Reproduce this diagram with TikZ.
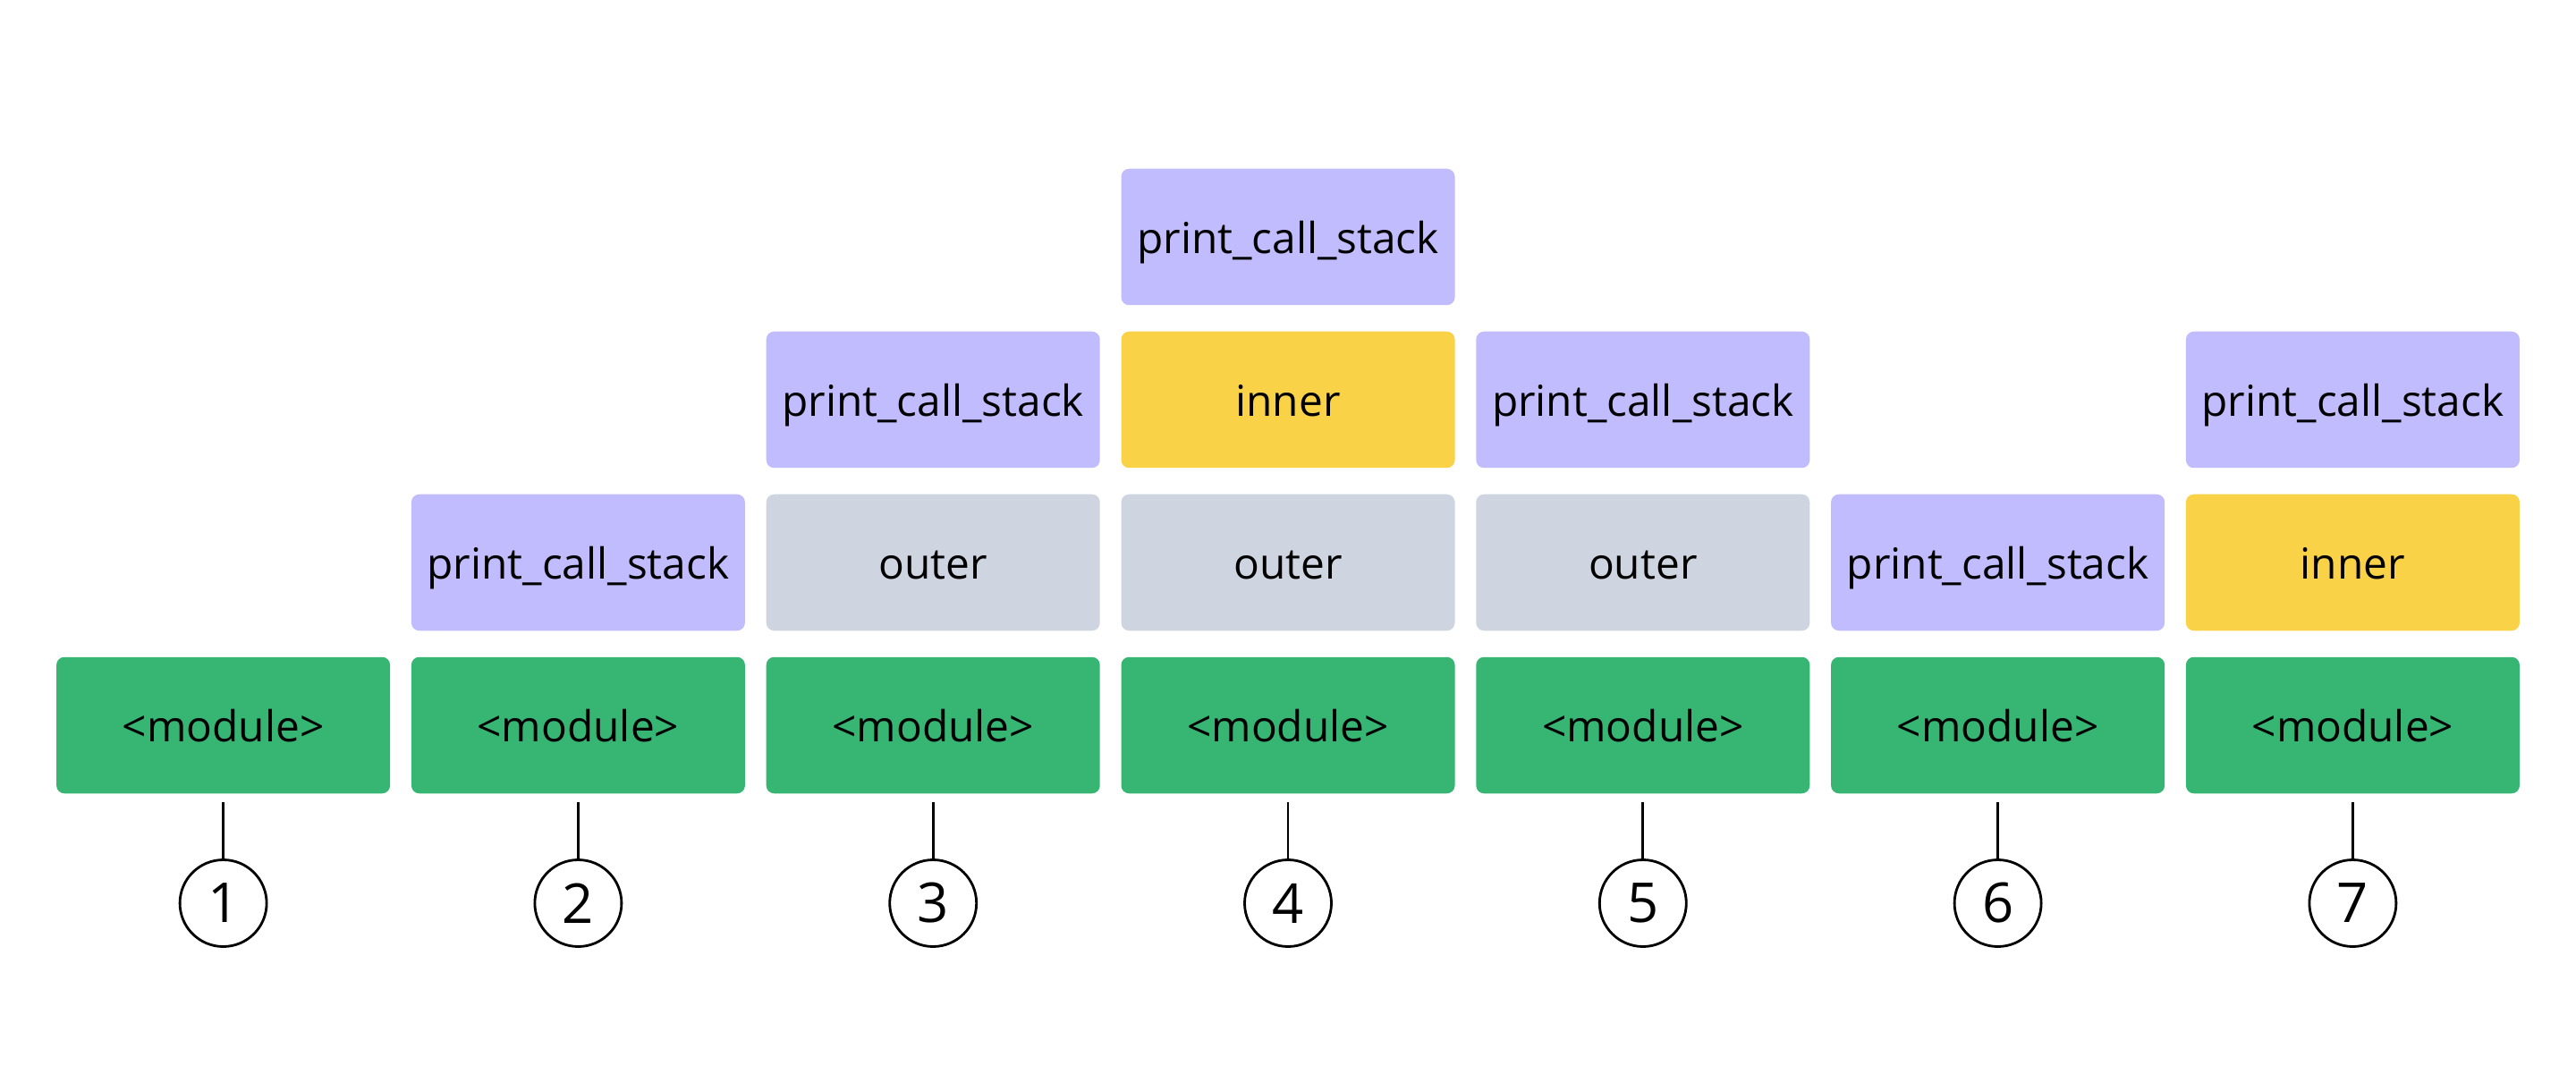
\documentclass[tikz,border=0pt]{standalone}
\usepackage{fontspec}
\setmainfont{Open Sans}
\usepackage{tikz}
\usetikzlibrary{positioning}
\definecolor{modgreen}{RGB}{54,181,115}
\definecolor{callpurple}{RGB}{193,188,253}
\definecolor{inneryellow}{RGB}{250,210,72}
\definecolor{outergray}{RGB}{206,212,224}
\tikzstyle{frame}=[rectangle,rounded corners=2.5pt,minimum width=3.73cm,minimum height=1.525cm,inner sep=0pt,text height=0.37cm,text depth=0pt,font=\fontsize{13.6}{16}\selectfont]
\tikzstyle{modbox}=[frame,fill=modgreen]
\tikzstyle{callbox}=[frame,fill=callpurple]
\tikzstyle{innerbox}=[frame,fill=inneryellow]
\tikzstyle{outerbox}=[frame,fill=outergray]
\tikzstyle{stepno}=[circle,draw,line width=0.8pt,minimum size=0.97cm,inner sep=0pt,font=\fontsize{17.5}{20}\selectfont]
\tikzstyle{tick}=[draw,line width=0.8pt,shorten <=0.09cm]

\begin{document}
\begin{tikzpicture}

  \useasboundingbox (0,0) rectangle (28.8,12);

  \def\dx{3.968};
  \def\xo{2.496};
  \def\dy{1.82};
  \def\yo{3.89};

  % bottom row
  \foreach \x in {1,...,7}
     \node[modbox] (m\x) at ({\xo+(\x-1)*\dx}, \yo) {<module>};

  % stack frames
  \foreach \x/\y/\name in {2/1/p2, 3/2/p3, 4/3/p4, 5/2/p5, 6/1/p6, 7/2/p7}
     \node[callbox] (\name) at ({\xo+(\x-1)*\dx}, {\yo+\y*\dy}) {print\_call\_stack};
  \foreach \x/\y/\name in {3/1/o3, 4/1/o4, 5/1/o5}
     \node[outerbox] (\name) at ({\xo+(\x-1)*\dx}, {\yo+\y*\dy}) {outer};
  \foreach \x/\y/\name in {4/2/i4, 7/1/i7}
     \node[innerbox] (\name) at ({\xo+(\x-1)*\dx}, {\yo+\y*\dy}) {inner};

  % step numbers
  \foreach \x in {1,...,7}
     \node[stepno] (c\x) at ({\xo+(\x-1)*\dx}, 1.90) {\x};
  \foreach \x in {1,...,7}
     \draw[tick] (m\x) -- (c\x);

\end{tikzpicture}
\end{document}
